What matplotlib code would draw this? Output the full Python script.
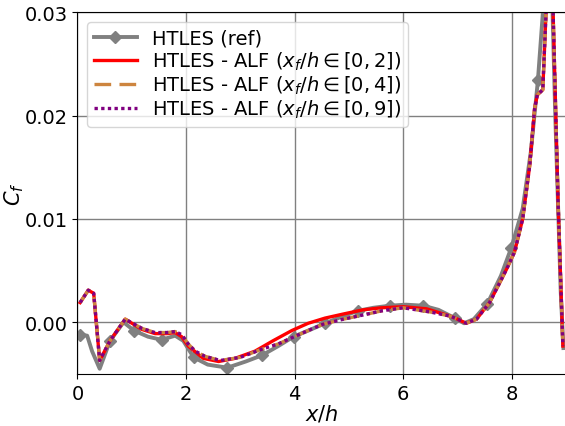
import matplotlib.pyplot as plt

# Reference HTLES skin friction
ref_x = [0.05, 0.18, 0.27, 0.41, 0.6, 0.85, 1.04, 1.3, 1.55, 1.8, 1.95, 2.14,
         2.4, 2.76, 3.1, 3.4, 3.7, 3.98, 4.3, 4.56, 4.85, 5.16, 5.45, 5.75,
         6.05, 6.37, 6.65, 6.95, 7.12, 7.3, 7.55, 7.8, 7.99, 8.2, 8.35, 8.48,
         8.6, 8.7, 8.8, 8.9, 8.95]
ref_y = [-0.0012, -0.0013, -0.0028, -0.0045, -0.0018, 0.0, -0.0008, -0.0014,
         -0.0017, -0.0013, -0.0018, -0.0034, -0.0041, -0.0044, -0.0038,
         -0.0032, -0.0023, -0.0014, -0.0007, -0.0001, 0.0005, 0.0011, 0.0014,
         0.0016, 0.0017, 0.0016, 0.0012, 0.0004, -0.0001, 0.0003, 0.0018,
         0.0045, 0.0072, 0.0110, 0.0165, 0.0234, 0.032, 0.04, 0.02, 0.003,
         -0.0025]
ref_marks = [0, 4, 6, 8, 11, 13, 15, 17, 19, 21, 23, 25, 27, 30, 32, 35]

# HTLES - ALF, forcing over x_f/h in [0, 2]
alf2_x = [0.05, 0.2, 0.3, 0.41, 0.6, 0.88, 1.19, 1.43, 1.65, 1.8, 1.92, 2.04,
          2.32, 2.6, 2.9, 3.27, 3.6, 3.95, 4.25, 4.56, 4.9, 5.26, 5.6, 6.0,
          6.43, 6.86, 7.0, 7.16, 7.35, 7.59, 7.9, 8.05, 8.2, 8.33, 8.42, 8.47,
          8.57, 8.63, 8.7, 8.76, 8.85, 8.94]
alf2_y = [0.0019, 0.0031, 0.0028, -0.0037, -0.0018, 0.0003, -0.0007, -0.0011,
          -0.0011, -0.0010, -0.0014, -0.0023, -0.0035, -0.0038, -0.0035,
          -0.0028, -0.0018, -0.0008, -0.0001, 0.0004, 0.0008, 0.0012, 0.0014,
          0.0015, 0.0013, 0.0006, 0.0003, -0.0001, 0.0003, 0.0019, 0.0051,
          0.0068, 0.0100, 0.0152, 0.0207, 0.0220, 0.0225, 0.0300, 0.045,
          0.030, 0.0119, -0.0023]

# HTLES - ALF, forcing over x_f/h in [0, 4]
alf4_x = [0.05, 0.2, 0.3, 0.41, 0.6, 0.88, 1.19, 1.43, 1.65, 1.8, 1.92, 2.04,
          2.17, 2.35, 2.63, 3.0, 3.4, 3.7, 3.95, 4.25, 4.52, 4.9, 5.26, 5.6,
          6.0, 6.49, 6.86, 7.0, 7.16, 7.35, 7.59, 7.9, 8.05, 8.2, 8.33, 8.42,
          8.47, 8.57, 8.63, 8.7, 8.76, 8.85, 8.94]
alf4_y = [0.0019, 0.0031, 0.0028, -0.0037, -0.0018, 0.0003, -0.0006, -0.0010,
          -0.0010, -0.0009, -0.0012, -0.0021, -0.0028, -0.0033, -0.0037,
          -0.0034, -0.0026, -0.0021, -0.0015, -0.0008, -0.0002, 0.0003, 0.0007,
          0.0011, 0.0014, 0.0010, 0.0006, 0.0003, -0.0001, 0.0003, 0.0019,
          0.0051, 0.0068, 0.0100, 0.0152, 0.0207, 0.0220, 0.0225, 0.0300,
          0.045, 0.030, 0.0119, -0.0023]

# HTLES - ALF, forcing over x_f/h in [0, 9]
alf9_x = alf4_x
alf9_y = [0.0019, 0.0031, 0.0028, -0.0037, -0.0018, 0.0003, -0.0006, -0.0010,
          -0.0010, -0.0009, -0.0012, -0.0021, -0.0028, -0.0033, -0.0037,
          -0.0034, -0.0026, -0.0021, -0.0015, -0.0008, -0.0002, 0.0003, 0.0007,
          0.0011, 0.0014, 0.0010, 0.0006, 0.0003, -0.0001, 0.0003, 0.0019,
          0.0051, 0.0068, 0.0100, 0.0152, 0.0207, 0.0220, 0.0225, 0.0300,
          0.045, 0.030, 0.0119, -0.0023]

fig = plt.figure(figsize=(5.65, 4.27), dpi=100)
ax = fig.add_axes([0.137, 0.122, 0.865, 0.847])

ax.plot(ref_x, ref_y, color="gray", lw=2.8, marker="D", ms=6,
        markevery=ref_marks, label="HTLES (ref)")
ax.plot(alf2_x, alf2_y, color="red", lw=2.4,
        label=r"HTLES - ALF ($x_f/h \in [0, 2]$)")
ax.plot(alf4_x, alf4_y, color="peru", lw=2.4, ls=(0, (5, 2.5)),
        label=r"HTLES - ALF ($x_f/h \in [0, 4]$)")
ax.plot(alf9_x, alf9_y, color="purple", lw=2.4, ls=(0, (1, 1)),
        label=r"HTLES - ALF ($x_f/h \in [0, 9]$)")

ax.set_xlim(0, 9)
ax.set_ylim(-0.005, 0.03)
ax.set_xticks([0, 2, 4, 6, 8])
ax.set_yticks([0.0, 0.01, 0.02, 0.03])
ax.set_yticklabels(["0.00", "0.01", "0.02", "0.03"])
ax.tick_params(labelsize=14)
ax.grid(True, color="gray", lw=1)
ax.set_xlabel("$x/h$", fontsize=15, labelpad=0)
ax.set_ylabel("$C_f$", fontsize=15)
ax.yaxis.set_label_coords(-0.105, 0.5)
ax.legend(loc="upper left", fontsize=14, handlelength=2.2,
          borderpad=0.35, labelspacing=0.1, handletextpad=0.8)

fig.savefig("out.png", dpi=100)
